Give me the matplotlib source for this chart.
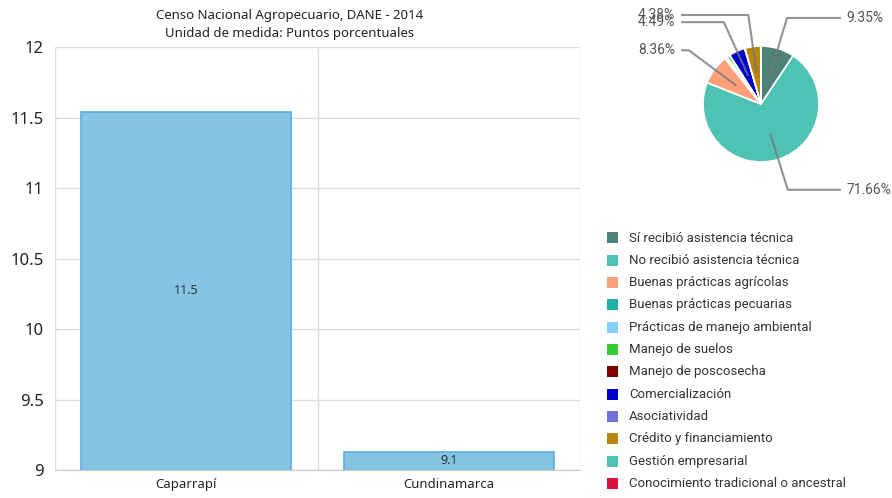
import numpy as np
import matplotlib
matplotlib.use("Agg")
import matplotlib.pyplot as plt
from matplotlib.patches import Rectangle

plt.rcParams['font.family'] = ['Noto Sans', 'DejaVu Sans']

# ---- data ----
bar_categories = ["Caparrapí", "Cundinamarca"]
bar_values = [11.54, 9.13]
bar_labels = ["11.5", "9.1"]
y_ticks = [9, 9.5, 10, 10.5, 11, 11.5, 12]

pie_labels = ["Sí recibió asistencia técnica", "No recibió asistencia técnica",
              "Buenas prácticas agrícolas", "Buenas prácticas pecuarias",
              "Prácticas de manejo ambiental", "Manejo de suelos",
              "Manejo de poscosecha", "Comercialización", "Asociatividad",
              "Crédito y financiamiento", "Gestión empresarial",
              "Conocimiento tradicional o ancestral"]
pie_values = [9.35, 71.66, 8.36, 0.2, 0.5, 0.8, 0.1, 4.49, 0.1, 4.38, 0.05, 0.01]
pie_colors = ["#4E8278", "#4FC3B3", "#FFA07A", "#20B2AA", "#87CEFA", "#32CD32",
              "#800000", "#0000CD", "#7070D8", "#B8860B", "#4FC3B3", "#DC143C"]
show_pct = [True, True, True, False, False, False, False, True, False, True, False, False]

W, H = 892, 498
fig = plt.figure(figsize=(W / 100, H / 100), dpi=100)

def fig_rect(x0, y0, x1, y1):
    return [x0 / W, 1 - y1 / H, (x1 - x0) / W, (y1 - y0) / H]

# ---- bar chart ----
ax = fig.add_axes(fig_rect(55, 47, 580, 470))
x = np.arange(len(bar_categories))
bars = ax.bar(x, bar_values, width=0.8, color="#85C4E3", edgecolor="#5AAEE0",
              linewidth=1.2, zorder=3)
ax.set_xlim(-0.5, len(bar_categories) - 0.5)
ax.set_ylim(9, 12)
ax.set_yticks(y_ticks)
ax.set_yticklabels([f"{t:g}" for t in y_ticks], fontsize=12, color="#222")
ax.set_xticks(x)
ax.set_xticklabels(bar_categories, fontsize=9.5, color="#222")
ax.tick_params(axis='both', length=0, pad=8)
ax.tick_params(axis='x', pad=6)
ax.grid(axis='y', color="#DDDDDD", linewidth=1, zorder=0)
for b in np.arange(len(bar_categories) + 1) - 0.5:
    ax.axvline(b, color="#DDDDDD", linewidth=1, zorder=0)
for s in ["top", "right", "left"]:
    ax.spines[s].set_visible(False)
ax.spines["bottom"].set_color("#CCCCCC")
for xi, v, lab in zip(x, bar_values, bar_labels):
    ax.text(xi, (9 + v) / 2, lab, ha="center", va="center", fontsize=9, color="#333", zorder=4)

fig.text(290 / W, 1 - 15 / H, "Censo Nacional Agropecuario, DANE - 2014",
         ha="center", va="center", fontsize=9.5, color="#222")
fig.text(290 / W, 1 - 33 / H, "Unidad de medida: Puntos porcentuales",
         ha="center", va="center", fontsize=9.5, color="#222")

# ---- pie chart ----
cx, cy, r = 761, 104, 58
pax = fig.add_axes(fig_rect(600, 0, 892, 210))
pax.set_xlim((600 - cx) / r, (892 - cx) / r)
pax.set_ylim(-(210 - cy) / r, cy / r)
pax.axis("off")
wedges, _ = pax.pie(pie_values, colors=pie_colors, startangle=90, counterclock=False,
                    radius=1, center=(0, 0), frame=True,
                    wedgeprops=dict(edgecolor="white", linewidth=1.2))
pax.set_xlim((600 - cx) / r, (892 - cx) / r)
pax.set_ylim(-(210 - cy) / r, cy / r)
pax.axis("off")
total = sum(pie_values)
for w, v, show in zip(wedges, pie_values, show_pct):
    if not show:
        continue
    ang = np.deg2rad((w.theta1 + w.theta2) / 2)
    dx, dy = np.cos(ang), np.sin(ang)
    p0 = (0.55 * dx, 0.55 * dy)
    p1 = (1.55 * dx, 1.55 * dy)
    side = 1 if dx >= 0 else -1
    p2 = (side * 1.36, p1[1])
    pax.plot([p0[0], p1[0], p2[0]], [p0[1], p1[1], p2[1]], color="#777777",
             linewidth=1.5, alpha=0.8, clip_on=False, zorder=5)
    pax.text(p2[0] + side * 0.12, p2[1], f"{100 * v / total:.2f}%",
             ha="left" if side > 0 else "right", va="center",
             fontsize=10, color="#555", family=["Roboto", "DejaVu Sans"], clip_on=False)

# ---- legend ----
for i, (lab, col) in enumerate(zip(pie_labels, pie_colors)):
    yc = 238 + i * 22.3
    fig.patches.append(Rectangle((607 / W, 1 - (yc + 5.5) / H), 11 / W, 11 / H,
                                 transform=fig.transFigure, facecolor=col,
                                 edgecolor="none"))
    fig.text(629 / W, 1 - yc / H, lab, ha="left", va="center", fontsize=9.5,
             color="#333", family=["Roboto", "DejaVu Sans"])

fig.savefig("out.png", dpi=100)
